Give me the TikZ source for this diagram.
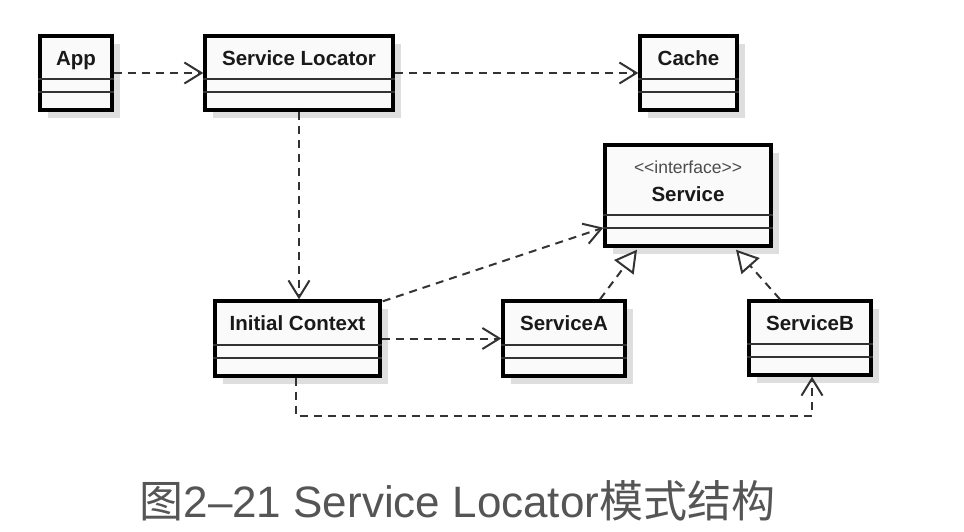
\documentclass[tikz,border=0pt]{standalone}
\usepackage{fontspec}
\setmainfont{Liberation Sans}
\newfontfamily\cjk{Noto Sans CJK SC}
\usetikzlibrary{calc,arrows.meta,shadows}
\definecolor{linegray}{HTML}{333333}
\definecolor{capgray}{HTML}{555555}
\begin{document}
\begin{tikzpicture}[x=1pt, y=1pt,
    classbox/.style={rectangle, draw=black, line width=3.4pt, fill=black!2, inner sep=0pt,
      drop shadow={shadow xshift=8pt, shadow yshift=-8pt, fill=black!13, opacity=1}},
    classname/.style={font=\bfseries\fontsize{20.5}{24}\selectfont, text=black!90, anchor=base},
    stereo/.style={font=\fontsize{17.5}{21}\selectfont, text=black!70, anchor=base},
    sep/.style={draw=black!80, line width=1.8pt},
    dep/.style={draw=linegray, line width=2pt, dash pattern=on 8pt off 6pt,
      -{Straight Barb[length=17pt, width=21pt]}},
    real/.style={draw=linegray, line width=2pt, dash pattern=on 8pt off 6pt,
      -{Triangle[open, length=22pt, width=24pt, fill=white]}}
  ]
  \useasboundingbox (0,0) rectangle (964,-532);

  % Classes
  \node[classbox, minimum width=72pt, minimum height=74pt] (app) at (76,-73) {};
  \node[classbox, minimum width=188pt, minimum height=74pt] (locator) at (299,-73) {};
  \node[classbox, minimum width=97pt, minimum height=74pt] (cache) at (688.5,-73) {};
  \node[classbox, minimum width=166pt, minimum height=101pt] (service) at (688,-195.5) {};
  \node[classbox, minimum width=165pt, minimum height=75pt] (ctx) at (297.5,-338.5) {};
  \node[classbox, minimum width=122pt, minimum height=75pt] (srva) at (564,-338.5) {};
  \node[classbox, minimum width=122pt, minimum height=74pt] (srvb) at (810,-338) {};

  % Compartments
  \foreach \c in {app,locator,cache,service,ctx,srva,srvb}
    \draw[sep] ($(\c.south west)+(0,33)$) -- ($(\c.south east)+(0,33)$)
               ($(\c.south west)+(0,19.5)$) -- ($(\c.south east)+(0,19.5)$);

  % Names
  \node[classname] (app-name) at ($(app.north)+(0,-31.5)$) {App};
  \node[classname] (locator-name) at ($(locator.north)+(0,-31.5)$) {Service Locator};
  \node[classname] (cache-name) at ($(cache.north)+(0,-31.5)$) {Cache};
  \node[stereo] (service-st) at ($(service.north)+(0,-30.5)$) {<\kern0pt<interface>\kern0pt>};
  \node[classname] (service-name) at ($(service.north)+(0,-58.5)$) {Service};
  \node[classname] (ctx-name) at ($(ctx.north)+(0,-31.5)$) {Initial\ Context};
  \node[classname] (srva-name) at ($(srva.north)+(0,-31.5)$) {ServiceA};
  \node[classname] (srvb-name) at ($(srvb.north)+(0,-31.5)$) {ServiceB};

  % Dependencies
  \draw[dep] (app) -- (locator);
  \draw[dep] (locator) -- (cache);
  \draw[dep] (locator.south) -- (locator.south |- ctx.north);
  \draw[dep] ($(ctx.north east)+(1,-2)$) -- ($(service.south west)+(0,20)$);
  \draw[dep] (ctx.east) -- (srva.west);
  \draw[dep] ($(ctx.south)+(-2,0)$) -- ++(0,-38) -| ($(srvb.south)+(2,0)$);

  % Realizations
  \draw[real] ($(srva.north)+(36,0)$) -- ($(service.south)+(-51,-2)$);
  \draw[real] ($(srvb.north)+(-30,0)$) -- ($(service.south)+(48,-2)$);

  % Caption
  \node[font=\fontsize{44}{50}\selectfont, text=capgray] (caption) at (457.5,-501)
    {{\cjk 图}2–21 Service Locator{\cjk 模式结构}};
\end{tikzpicture}
\end{document}
